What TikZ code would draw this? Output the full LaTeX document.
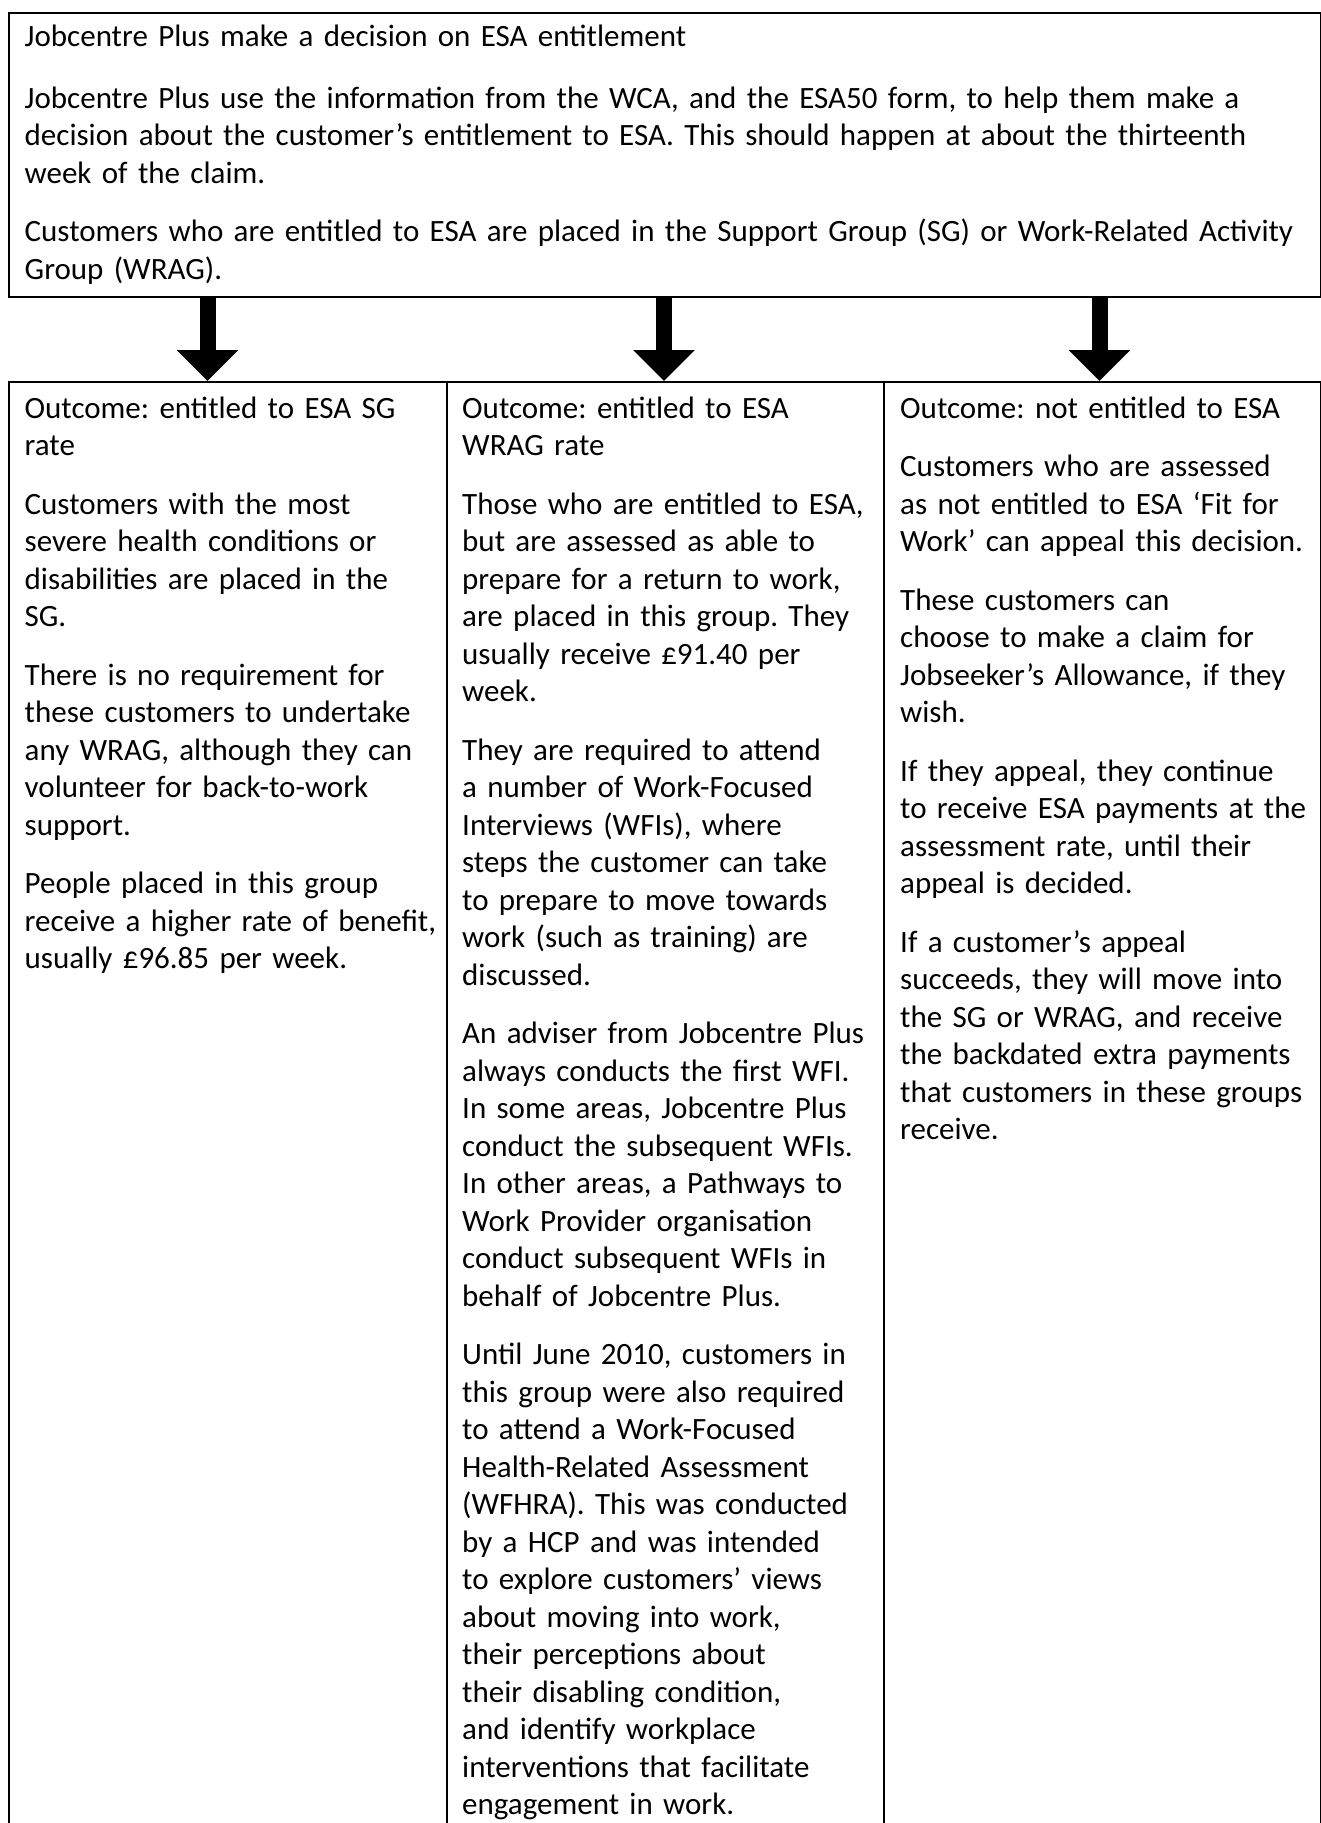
\documentclass[tikz,border=0pt]{standalone}
\usepackage{fontspec}
\setmainfont{Carlito}
\usetikzlibrary{arrows.meta}
\frenchspacing
\begin{document}
\begin{tikzpicture}[x=1pt,y=-1pt]
\useasboundingbox[fill=white] (0,0) rectangle (1321,1823);
\tikzset{
  frame/.style={draw=black, line width=2pt, inner sep=0pt, anchor=north west},
  body/.style={anchor=base west, inner sep=0pt, align=left, text width=#1,
    font=\fontsize{31}{37.5}\selectfont\frenchspacing},
  bigarrow/.style={line width=16pt, -{Triangle[width=60pt,length=31pt]}},
}
% boxes
\node[frame, minimum width=1312pt, minimum height=284pt] (top) at (8,11.7) {};
\node[frame, minimum width=438pt, minimum height=1480pt] (c1) at (8,381) {};
\node[frame, minimum width=437pt, minimum height=1480pt] (c2) at (446,381) {};
\node[frame, minimum width=437pt, minimum height=1480pt] (c3) at (883,381) {};
% arrows
\coordinate (t1) at (207.5,381);
\coordinate (t2) at (664,381);
\coordinate (t3) at (1099.5,381);
\draw[bigarrow] (top.south -| t1) -- (t1);
\draw[bigarrow] (top.south -| t2) -- (t2);
\draw[bigarrow] (top.south -| t3) -- (t3);
% texts
\node[body=1600pt] (ttext) at (24.5,46.5) {Jobcentre Plus make a decision on ESA entitlement\\[24pt]
Jobcentre Plus use the information from the WCA, and the ESA50 form, to help them make a\\
decision about the customer’s entitlement to ESA. This should happen at about the thirteenth\\
week of the claim.\\[21pt]
Customers who are entitled to ESA are placed in the Support Group (SG) or Work-Related Activity\\
Group (WRAG).};

\node[body=600pt] (text1) at (24.5,418.3) {Outcome: entitled to ESA SG\\
rate\\[21pt]
Customers with the most\\
severe health conditions or\\
disabilities are placed in the\\
SG.\\[21pt]
There is no requirement for\\
these customers to undertake\\
any WRAG, although they can\\
volunteer for back-to-work\\
support.\\[21pt]
People placed in this group\\
receive a higher rate of benefit,\\
usually £96.85 per week.};

\node[body=600pt] (text2) at (462,418.3) {Outcome: entitled to ESA\\
WRAG rate\\[21pt]
Those who are entitled to ESA,\\
but are assessed as able to\\
prepare for a return to work,\\
are placed in this group. They\\
usually receive £91.40 per\\
week.\\[21pt]
They are required to attend\\
a number of Work-Focused\\
Interviews (WFIs), where\\
steps the customer can take\\
to prepare to move towards\\
work (such as training) are\\
discussed.\\[21pt]
An adviser from Jobcentre Plus\\
always conducts the first WFI.\\
In some areas, Jobcentre Plus\\
conduct the subsequent WFIs.\\
In other areas, a Pathways to\\
Work Provider organisation\\
conduct subsequent WFIs in\\
behalf of Jobcentre Plus.\\[21pt]
Until June 2010, customers in\\
this group were also required\\
to attend a Work-Focused\\
Health-Related Assessment\\
(WFHRA). This was conducted\\
by a HCP and was intended\\
to explore customers’ views\\
about moving into work,\\
their perceptions about\\
their disabling condition,\\
and identify workplace\\
interventions that facilitate\\
engagement in work.};

\node[body=600pt] (text3) at (900,418.3) {Outcome: not entitled to ESA\\[21pt]
Customers who are assessed\\
as not entitled to ESA ‘Fit for\\
Work’ can appeal this decision.\\[21pt]
These customers can\\
choose to make a claim for\\
Jobseeker’s Allowance, if they\\
wish.\\[21pt]
If they appeal, they continue\\
to receive ESA payments at the\\
assessment rate, until their\\
appeal is decided.\\[21pt]
If a customer’s appeal\\
succeeds, they will move into\\
the SG or WRAG, and receive\\
the backdated extra payments\\
that customers in these groups\\
receive.};
\end{tikzpicture}
\end{document}
